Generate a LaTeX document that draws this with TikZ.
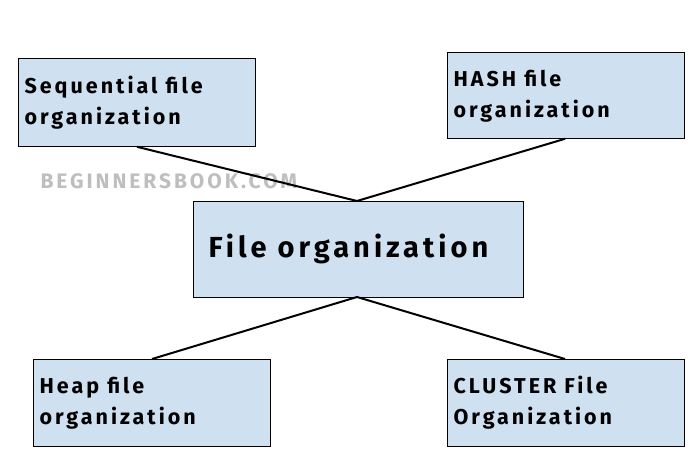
\documentclass[tikz,border=0pt]{standalone}
\usepackage{fontspec}
\setmainfont{Fira Sans}[LetterSpace=14]
\begin{document}
\begin{tikzpicture}[x=1pt,y=-1pt,
  box/.style={draw=black,fill={rgb,255:red,207;green,224;blue,241},line width=0.8pt},
  lbl/.style={anchor=west,align=left,font=\bfseries\fontsize{21.5}{31}\selectfont},
  conn/.style={line width=2pt}]
\useasboundingbox (0,0) rectangle (688,466);
\node[box,minimum width=237pt,minimum height=88pt,anchor=north west] (seq) at (18,58) {};
\node[box,minimum width=237pt,minimum height=86pt,anchor=north west] (hash) at (447,52) {};
\node[box,minimum width=330pt,minimum height=96pt,anchor=north west] (file) at (193,201) {};
\node[box,minimum width=237pt,minimum height=87pt,anchor=north west] (heap) at (33,359) {};
\node[box,minimum width=237pt,minimum height=87pt,anchor=north west] (clu) at (447,359) {};
\node[lbl] at (21,103) {Sequential file\\organization};
\node[lbl] at (450,96) {HASH file\\organization};
\node[lbl,font=\bfseries\fontsize{29}{32}\selectfont] at (205,249) {File organization};
\node[lbl] at (36,403) {Heap file\\organization};
\node[lbl] at (450,403) {CLUSTER File\\Organization};
\node[anchor=west,text={rgb,255:red,190;green,190;blue,190},font=\bfseries\fontsize{21}{22}\selectfont] (wm) at (37,181) {BEGINNERSBOOK.COM};
\coordinate (ft) at (357,201);
\coordinate (fb) at (357,297);
\draw[conn] (ft) -- (seq.south west -| 137,0) ;
\draw[conn] (ft) -- (hash.south west -| 565,0);
\draw[conn] (fb) -- (heap.north west -| 152,0);
\draw[conn] (fb) -- (clu.north west -| 565,0);
\end{tikzpicture}
\end{document}
